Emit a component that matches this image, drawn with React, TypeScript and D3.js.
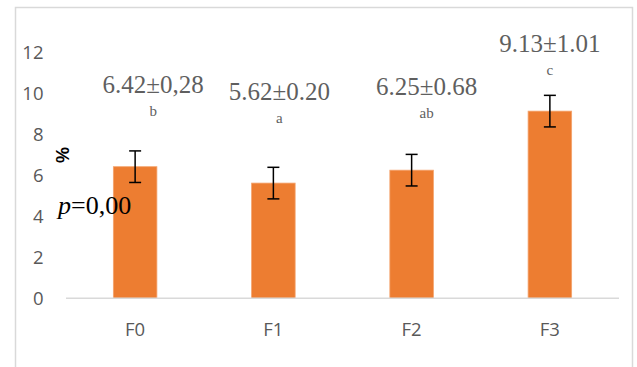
import React from "react";
import * as d3 from "d3";

const categories = ["F0", "F1", "F2", "F3"];
const values = [6.42, 5.62, 6.25, 9.13];
const errors = [0.77, 0.77, 0.77, 0.77];
const meanLabels = ["6.42±0,28", "5.62±0.20", "6.25±0.68", "9.13±1.01"];
const groupLetters = ["b", "a", "ab", "c"];
const labelLevels = [10.03, 9.67, 9.92, 12.0];
const labelShift = [18, 6, 15, 0];
const yTicks = [0, 2, 4, 6, 8, 10, 12];

const W = 637;
const H = 367;
const plotLeft = 66;
const plotRight = 619;
const plotTop = 52.3;
const plotBottom = 298.3;

export default function App() {
  const x = d3
    .scaleBand<string>()
    .domain(categories)
    .range([plotLeft, plotRight])
    .paddingInner(0.685)
    .paddingOuter(0.3425);
  const y = d3.scaleLinear().domain([0, 12]).range([plotBottom, plotTop]);
  const bw = x.bandwidth();
  const cap = 6;
  const sans = "'Open Sans', 'Liberation Sans', Arial, sans-serif";
  const serif = "'Liberation Serif', 'Times New Roman', serif";

  return (
    <svg
      width={W}
      height={H}
      style={{ position: "absolute", left: 0, top: 0, background: "#fff" }}
    >
      <rect x={15.5} y={7.5} width={617} height={400} fill="#fff" stroke="#d9d9d9" strokeWidth={1.5} />
      {yTicks.map((t) => (
        <text
          key={t}
          x={43.5}
          y={y(t)}
          dy="0.36em"
          textAnchor="end"
          fontFamily={sans}
          fontSize={18.5}
          fill="#595959"
        >
          {t}
        </text>
      ))}
      {categories.map((c, i) => {
        const cx = (x(c) as number) + bw / 2;
        return (
          <g key={c}>
            <rect
              x={x(c)}
              y={y(values[i])}
              width={bw}
              height={y(0) - y(values[i])}
              fill="#ED7D31"
              stroke="#F4A46E"
              strokeWidth={0.8}
            />
            <line x1={cx} x2={cx} y1={y(values[i] + errors[i])} y2={y(values[i] - errors[i])} stroke="#000" strokeWidth={1.5} />
            <line x1={cx - cap} x2={cx + cap} y1={y(values[i] + errors[i])} y2={y(values[i] + errors[i])} stroke="#000" strokeWidth={1.5} />
            <line x1={cx - cap} x2={cx + cap} y1={y(values[i] - errors[i])} y2={y(values[i] - errors[i])} stroke="#000" strokeWidth={1.5} />
            <text
              x={cx}
              y={336}
              textAnchor="middle"
              fontFamily={sans}
              fontSize={18.5}
              fill="#595959"
            >
              {c}
            </text>
            <text
              x={cx + labelShift[i]}
              y={y(labelLevels[i])}
              textAnchor="middle"
              fontFamily={serif}
              fontSize={25}
              fill="#5f5f5f"
            >
              {meanLabels[i]}
            </text>
            <text
              x={cx + labelShift[i]}
              y={y(labelLevels[i]) + 23}
              textAnchor="middle"
              fontFamily={serif}
              fontSize={15}
              fill="#5f5f5f"
            >
              {groupLetters[i]}
            </text>
          </g>
        );
      })}
      <line x1={plotLeft} x2={plotRight} y1={plotBottom} y2={plotBottom} stroke="#d9d9d9" strokeWidth={1.5} />
      <text
        transform="translate(63,155) rotate(-90)"
        textAnchor="middle"
        dy="0.35em"
        fontFamily="'Liberation Sans', Arial, sans-serif"
        fontWeight="bold"
        fontSize={18}
        fill="#000"
      >
        %
      </text>
      <text x={58} y={213.5} fontFamily={serif} fontSize={26} fill="#000">
        <tspan fontStyle="italic">p</tspan>=0,00
      </text>
    </svg>
  );
}
